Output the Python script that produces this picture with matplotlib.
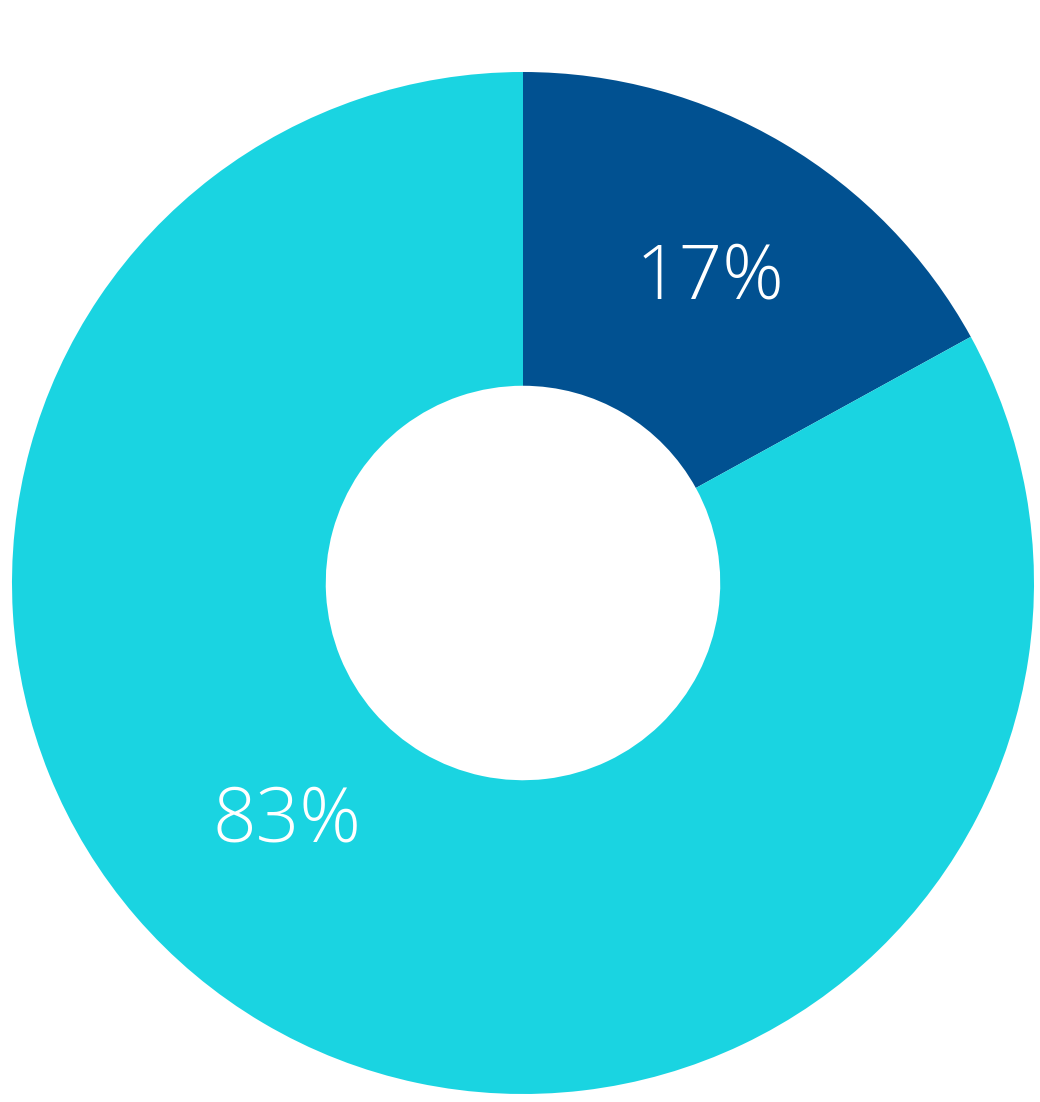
import matplotlib
matplotlib.use("Agg")
import matplotlib.pyplot as plt
import numpy as np

labels = ["A", "B"]
values = [17, 83]
colors = ["#015191", "#1AD4E1"]
label_text = ["17%", "83%"]

fig = plt.figure(figsize=(10.4, 11.02), dpi=100)
ax = fig.add_axes([12 / 1040, 8 / 1102, 1022 / 1040, 1022 / 1102])

wedges, _ = ax.pie(values, colors=colors, startangle=90, counterclock=False,
                   radius=1.0, wedgeprops=dict(width=0.614, edgecolor="none"))

# label spots, polar (radius, angle in degrees)
spots = [(0.699, 58.45), (0.657, 225.3)]
for (r, a), t in zip(spots, label_text):
    x = r * np.cos(np.radians(a))
    y = r * np.sin(np.radians(a))
    ax.text(x, y, t, ha="center", va="center", color="white",
            fontsize=55, family="Open Sans", fontweight="light")

ax.set_xlim(-1, 1)
ax.set_ylim(-1, 1)
ax.set_aspect("equal")
ax.axis("off")

fig.savefig("out.png", dpi=100)
